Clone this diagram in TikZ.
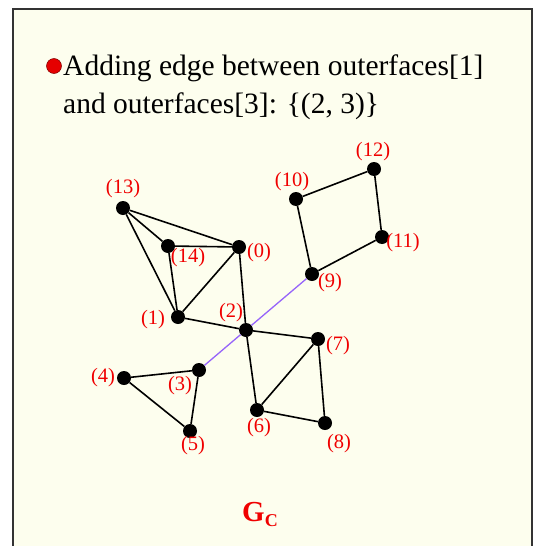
\documentclass[tikz,border=0pt]{standalone}
\usepackage{fontspec}
\setmainfont{Liberation Serif}
\usetikzlibrary{positioning}
\definecolor{slidebg}{RGB}{253,254,238}
\definecolor{newedge}{RGB}{150,100,250}
\definecolor{lblred}{RGB}{240,0,0}
\tikzset{
  vtx/.style={circle,fill=black,inner sep=0pt,minimum size=14pt},
  lbl/.style={text=lblred,font=\fontsize{20.5}{20.5}\selectfont,inner sep=0pt},
  gedge/.style={line width=1.6pt,black},
}

\begin{document}
\begin{tikzpicture}[x=1pt,y=-1pt]
\useasboundingbox (0,0) rectangle (533,546);
% slide frame
\fill[white] (0,0) rectangle (533,546);
\draw[line width=2pt,black!80,fill=slidebg] (12.5,9) rectangle (531.5,570);

% heading
\node[circle,fill=red!90!black,draw=red!50!black,line width=0.5pt,inner sep=0pt,minimum size=15pt] (bul) at (54,66) {};
\node[anchor=base west,inner sep=0pt,font=\fontsize{29.5}{29.5}\selectfont] (head1) at (63,75) {Adding edge between outerfaces[1]};
\node[anchor=base west,inner sep=0pt,font=\fontsize{29.5}{29.5}\selectfont] (head2) at (63,113) {and outerfaces[3]: \{(2, 3)\}};

% vertices
\node[vtx] (v0) at (239,247) {};
\node[vtx] (v1) at (178,317) {};
\node[vtx] (v2) at (246,330) {};
\node[vtx] (v3) at (199,370) {};
\node[vtx] (v4) at (124,378) {};
\node[vtx] (v5) at (190,431) {};
\node[vtx] (v6) at (257,410) {};
\node[vtx] (v7) at (318,339) {};
\node[vtx] (v8) at (325,423) {};
\node[vtx] (v9) at (312,274) {};
\node[vtx] (v10) at (296,199) {};
\node[vtx] (v11) at (382,237) {};
\node[vtx] (v12) at (374,169) {};
\node[vtx] (v13) at (123,208) {};
\node[vtx] (v14) at (168,246) {};

% the added edge
\draw[line width=1.3pt,newedge] (v3) -- (v2) -- (v9);

% edges
\draw[gedge] (v13) -- (v14);
\draw[gedge] (v13) -- (v0);
\draw[gedge] (v13) -- (v1);
\draw[gedge] (v14) -- (v0);
\draw[gedge] (v14) -- (v1);
\draw[gedge] (v0) -- (v1);
\draw[gedge] (v0) -- (v2);
\draw[gedge] (v1) -- (v2);
\draw[gedge] (v2) -- (v7);
\draw[gedge] (v2) -- (v6);
\draw[gedge] (v6) -- (v7);
\draw[gedge] (v7) -- (v8);
\draw[gedge] (v6) -- (v8);
\draw[gedge] (v3) -- (v4);
\draw[gedge] (v4) -- (v5);
\draw[gedge] (v3) -- (v5);
\draw[gedge] (v10) -- (v12);
\draw[gedge] (v12) -- (v11);
\draw[gedge] (v11) -- (v9);
\draw[gedge] (v9) -- (v10);

% vertex labels
\node[lbl] (l0) at (259,253) {(0)};
\node[lbl] (l1) at (153,320) {(1)};
\node[lbl] (l2) at (231,313) {(2)};
\node[lbl] (l3) at (180,386) {(3)};
\node[lbl] (l4) at (103,378) {(4)};
\node[lbl] (l5) at (193,446) {(5)};
\node[lbl] (l6) at (259,428) {(6)};
\node[lbl] (l7) at (338,346) {(7)};
\node[lbl] (l8) at (339,444) {(8)};
\node[lbl] (l9) at (330,283) {(9)};
\node[lbl] (l10) at (292,182) {(10)};
\node[lbl] (l11) at (403,243) {(11)};
\node[lbl] (l12) at (373,152) {(12)};
\node[lbl] (l13) at (123,189) {(13)};
\node[lbl] (l14) at (188,258) {(14)};

% graph name
\node[anchor=base west,inner sep=0pt,text=lblred,font=\bfseries] (gname) at (242,521.5)
  {{\fontsize{29}{29}\selectfont G}\raisebox{-5pt}{\fontsize{18}{18}\selectfont C}};
\end{tikzpicture}
\end{document}
